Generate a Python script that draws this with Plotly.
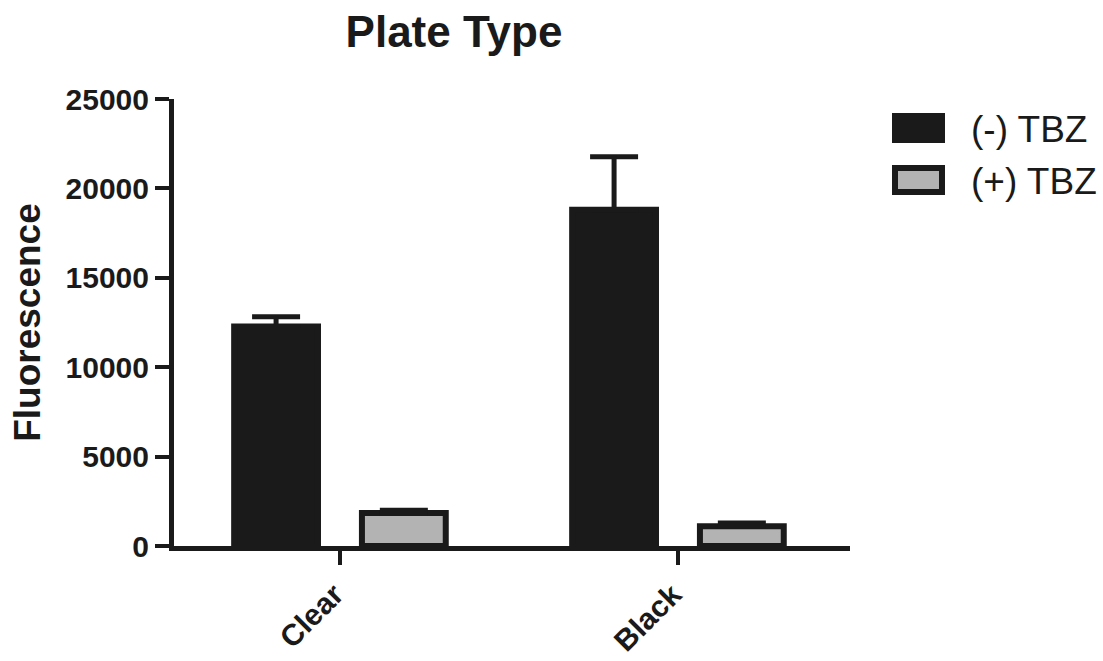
import plotly.graph_objects as go

categories = ["Clear", "Black"]
series_names = ["(-) TBZ", "(+) TBZ"]
minus_tbz = [12280, 18810]
minus_tbz_err = [540, 2960]
plus_tbz = [1850, 1100]
plus_tbz_err = [150, 190]
y_ticks = [0, 5000, 10000, 15000, 20000, 25000]

DARK = "#1a1a1a"
GRAY = "#b3b3b3"
FONT = "Liberation Sans"

fig = go.Figure()
fig.add_trace(go.Bar(
    x=categories, y=minus_tbz, name=series_names[0],
    width=0.248, offset=-0.312,
    marker=dict(color=DARK, line=dict(color=DARK, width=6)),
    error_y=dict(type="data", array=minus_tbz_err, arrayminus=[0, 0], symmetric=False,
                 color=DARK, thickness=5, width=24),
))
fig.add_trace(go.Bar(
    x=categories, y=plus_tbz, name=series_names[1],
    width=0.248, offset=0.066,
    marker=dict(color=GRAY, line=dict(color=DARK, width=6)),
    error_y=dict(type="data", array=plus_tbz_err, arrayminus=[0, 0], symmetric=False,
                 color=DARK, thickness=5, width=24),
))

W, H = 1103, 661
L, R, T, B = 174, 253, 99, 115
pw, ph = W - L - R, H - T - B

def px(x):
    return (x - L) / pw

def py(y):
    return (H - B - y) / ph

shapes = [
    dict(type="rect", xref="paper", yref="paper",
         x0=px(895), x1=px(942), y0=py(140), y1=py(116),
         fillcolor=DARK, line=dict(color=DARK, width=6)),
    dict(type="rect", xref="paper", yref="paper",
         x0=px(895), x1=px(942), y0=py(192), y1=py(168),
         fillcolor=GRAY, line=dict(color=DARK, width=6)),
]
annotations = [
    dict(text=series_names[0], xref="paper", yref="paper", x=px(969), y=py(129),
         xanchor="left", yanchor="middle", showarrow=False,
         font=dict(family=FONT, size=37, color=DARK)),
    dict(text=series_names[1], xref="paper", yref="paper", x=px(969), y=py(181),
         xanchor="left", yanchor="middle", showarrow=False,
         font=dict(family=FONT, size=37, color=DARK)),
]

fig.update_layout(
    width=W, height=H,
    margin=dict(l=L, r=R, t=T, b=B, pad=0, autoexpand=False),
    paper_bgcolor="white", plot_bgcolor="white",
    barmode="overlay",
    showlegend=False,
    font=dict(family=FONT, color=DARK),
    title=dict(text="Plate Type", x=454 / W, xref="container", xanchor="center",
               y=1 - 32 / H, yref="container", yanchor="middle",
               font=dict(family=FONT, size=44, weight="bold", color=DARK)),
    shapes=shapes, annotations=annotations,
    xaxis=dict(
        range=[-0.49, 1.51], showline=True, linecolor=DARK, linewidth=5,
        ticks="outside", ticklen=14, tickwidth=4, tickcolor=DARK,
        tickangle=-45, showgrid=False, zeroline=False, automargin=False,
        ticklabelshift=-5, ticklabelstandoff=0,
        tickfont=dict(family=FONT, size=30, weight="bold", color=DARK),
    ),
    yaxis=dict(
        range=[0, 25000], tickvals=y_ticks, ticktext=[str(v) for v in y_ticks],
        showline=True, linecolor=DARK, linewidth=5,
        ticks="outside", ticklen=14, tickwidth=4, tickcolor=DARK,
        showgrid=False, zeroline=False, automargin=False,
        tickfont=dict(family=FONT, size=30, weight="bold", color=DARK),
        title=dict(text="Fluorescence", standoff=15,
                   font=dict(family=FONT, size=37, weight="bold", color=DARK)),
    ),
)

fig.write_html("out.html")
